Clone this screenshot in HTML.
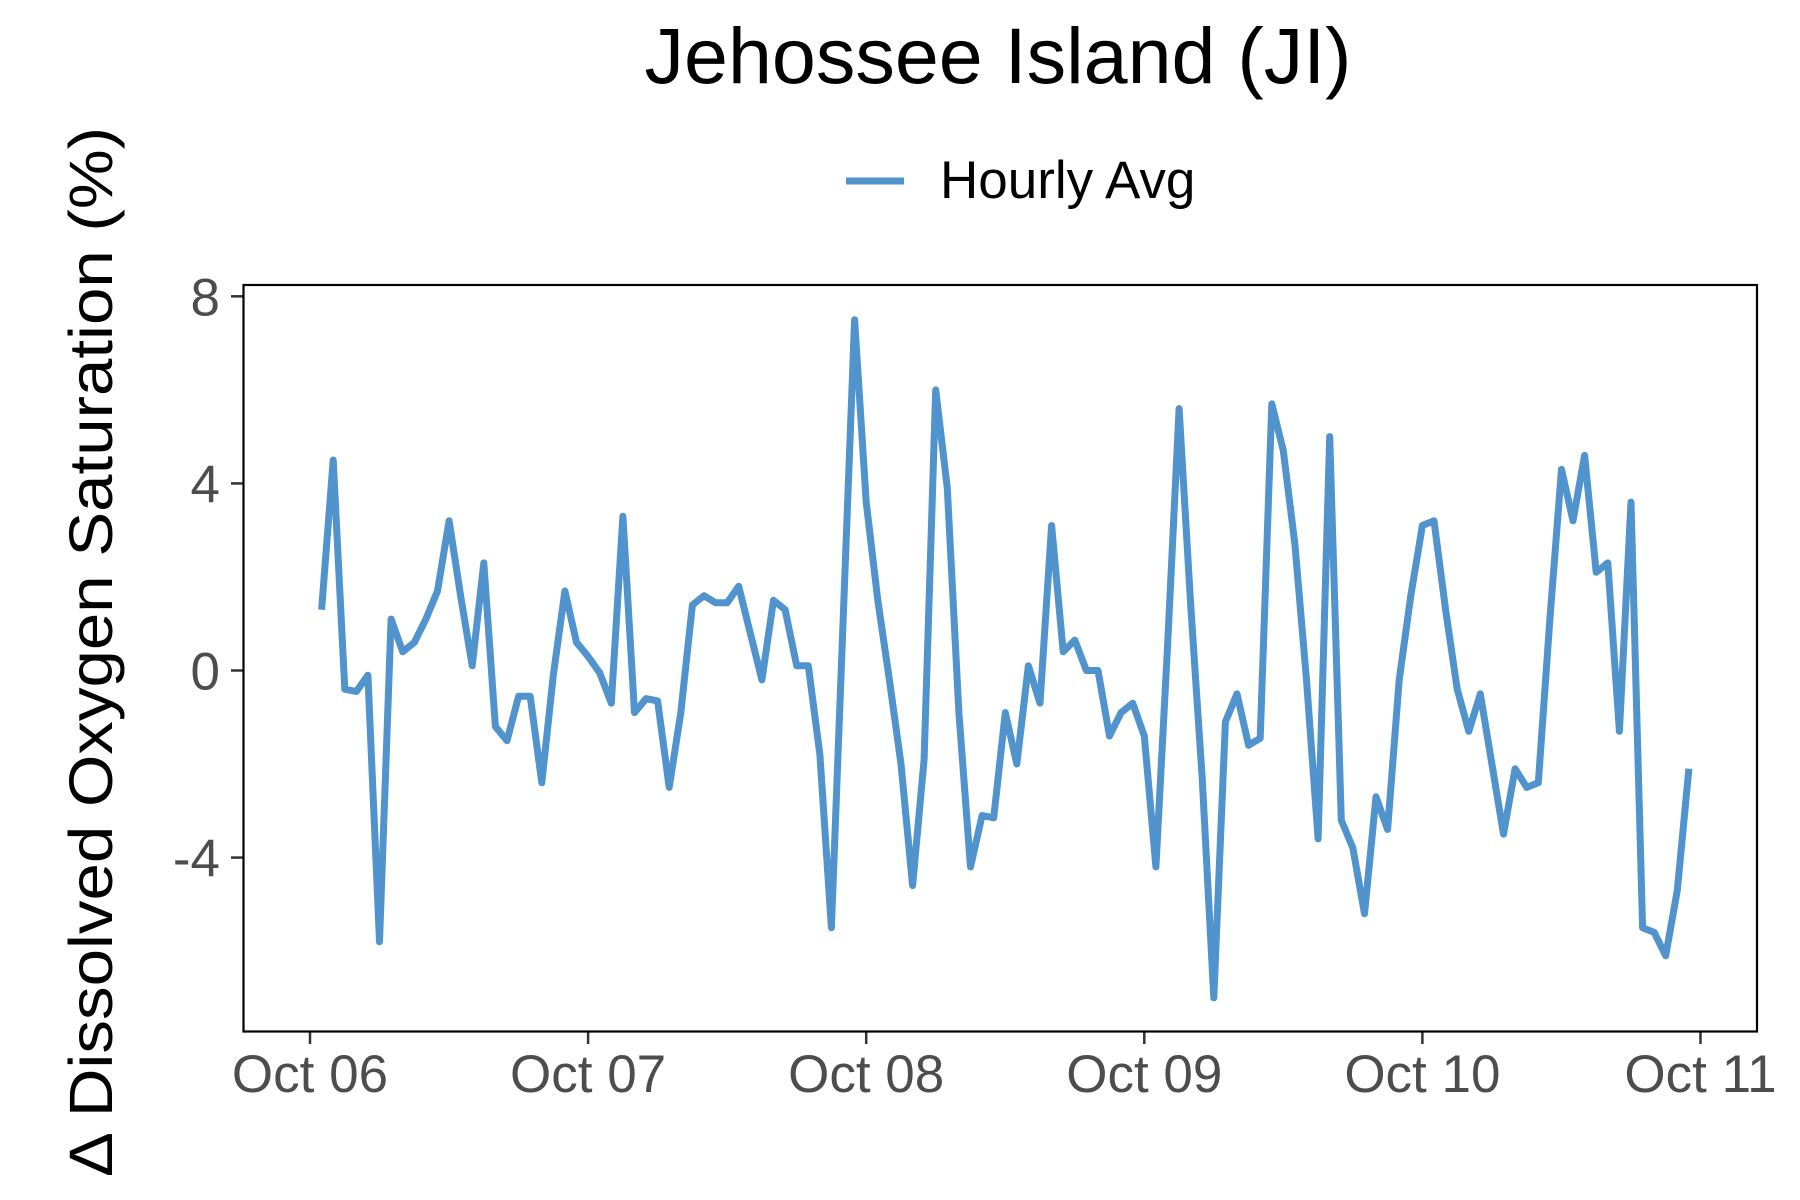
<!DOCTYPE html>
<html><head><meta charset="utf-8"><style>
html,body{margin:0;padding:0;background:#fff}
svg{display:block;font-family:"Liberation Sans",Arial,sans-serif}
</style></head><body>
<svg id="chart" width="1800" height="1200" viewBox="0 0 1800 1200" xmlns="http://www.w3.org/2000/svg">
<rect width="1800" height="1200" fill="#fff"/>
<text x="998" y="83" font-size="79" text-anchor="middle" fill="#000">Jehossee Island (JI)</text>
<g>
<line x1="846" y1="181" x2="904" y2="181" stroke="#5093cd" stroke-width="7"/>
<text x="940" y="198" font-size="53" fill="#000">Hourly Avg</text>
</g>
<text transform="translate(112,652) rotate(-90)" font-size="61" text-anchor="middle" fill="#000" textLength="1050" lengthAdjust="spacingAndGlyphs">Δ Dissolved Oxygen Saturation (%)</text>
<g id="yaxis"></g>
<g id="xaxis"></g>
<path id="line" fill="none" stroke="#5093cd" stroke-width="7" stroke-linejoin="round"/>
<rect x="243.5" y="285" width="1513.5" height="746.5" fill="none" stroke="#000" stroke-width="2.2"/>
</svg>
<script>
const values = [1.3,4.5,-0.4,-0.45,-0.1,-5.8,1.1,0.4,0.6,1.1,1.7,3.2,1.6,0.1,2.3,-1.2,-1.5,-0.55,-0.55,-2.4,-0.1,1.7,0.6,0.3,-0.05,-0.7,3.3,-0.9,-0.6,-0.65,-2.5,-0.9,1.4,1.6,1.45,1.45,1.8,0.8,-0.2,1.5,1.3,0.1,0.1,-1.8,-5.5,1.0,7.5,3.6,1.5,-0.2,-2,-4.6,-1.9,6.0,3.9,-0.9,-4.2,-3.1,-3.15,-0.9,-2.0,0.1,-0.7,3.1,0.4,0.65,0,0,-1.4,-0.9,-0.7,-1.4,-4.2,0.5,5.6,1.4,-2.3,-7.0,-1.1,-0.5,-1.6,-1.45,5.7,4.7,2.7,-0.2,-3.6,5.0,-3.2,-3.8,-5.2,-2.7,-3.4,-0.2,1.6,3.1,3.2,1.3,-0.4,-1.3,-0.5,-2.0,-3.5,-2.1,-2.5,-2.4,1.1,4.3,3.2,4.6,2.1,2.3,-1.3,3.6,-5.5,-5.6,-6.1,-4.7,-2.1];
const startHour = 1;
const yTicks = [8,4,0,-4];
const yTickLabels = ["8","4","0","-4"];
const xTickHours = [0,24,48,72,96,120];
const xTickLabels = ["Oct 06","Oct 07","Oct 08","Oct 09","Oct 10","Oct 11"];

const NS="http://www.w3.org/2000/svg";
function xs(h){return 310 + h*(278.1/24);}
function ys(v){return 670.5 - v*46.77;}
const yg=document.getElementById('yaxis'), xg=document.getElementById('xaxis');
yTicks.forEach((t,i)=>{
  const l=document.createElementNS(NS,'line');
  l.setAttribute('x1',231);l.setAttribute('x2',243.5);l.setAttribute('y1',ys(t));l.setAttribute('y2',ys(t));
  l.setAttribute('stroke','#333');l.setAttribute('stroke-width',2.5);
  
  
  yg.appendChild(l);
  const tx=document.createElementNS(NS,'text');
  tx.setAttribute('x',220);tx.setAttribute('y',ys(t)+19);tx.setAttribute('text-anchor','end');
  tx.setAttribute('font-size',53);tx.setAttribute('fill','#4d4d4d');tx.textContent=yTickLabels[i];
  
  
  yg.appendChild(tx);
});
xTickHours.forEach((h,i)=>{
  const l=document.createElementNS(NS,'line');
  l.setAttribute('x1',xs(h));l.setAttribute('x2',xs(h));l.setAttribute('y1',1031.5);l.setAttribute('y2',1044);
  l.setAttribute('stroke','#333');l.setAttribute('stroke-width',2.5);
  
  
  xg.appendChild(l);
  const tx=document.createElementNS(NS,'text');
  tx.setAttribute('x',xs(h));tx.setAttribute('y',1092);tx.setAttribute('text-anchor','middle');
  tx.setAttribute('font-size',53);tx.setAttribute('fill','#4d4d4d');tx.textContent=xTickLabels[i];
  
  
  xg.appendChild(tx);
});
document.getElementById('line').setAttribute('d', values.map((v,i)=>(i?'L':'M')+xs(startHour+i).toFixed(1)+','+ys(v).toFixed(1)).join(''));
</script>
</body></html>
